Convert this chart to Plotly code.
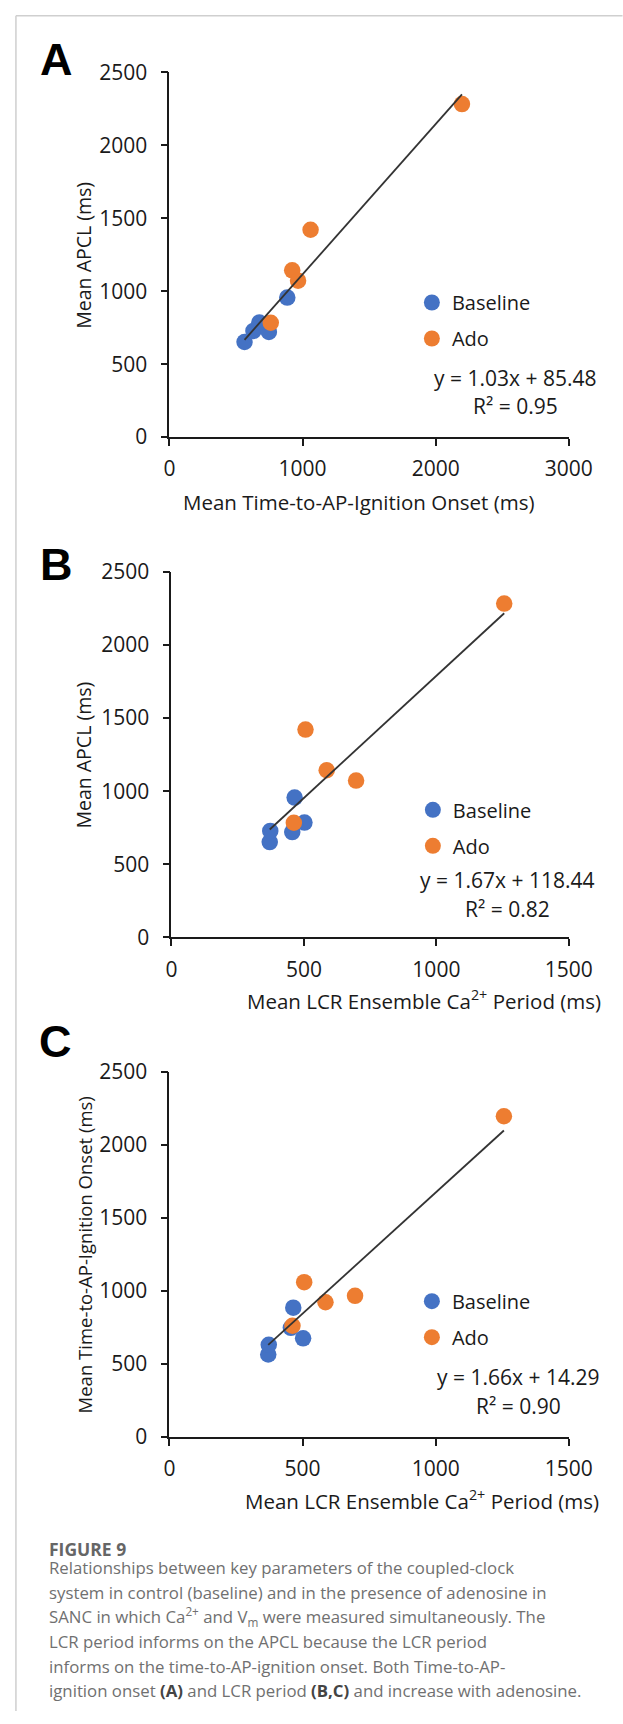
import plotly.graph_objects as go

# ---------------- data ----------------
series_names = ["Baseline", "Ado"]
series_colors = ["#4472C4", "#ED7D31"]

# per cell values (ms)
base_lcr = [371, 373, 456, 465, 502]
base_ign = [564, 631, 747, 885, 675]
base_apcl = [652, 728, 720, 956, 785]

ado_lcr = [462, 506, 586, 697, 1256]
ado_ign = [761, 1060, 922, 966, 2197]
ado_apcl = [784, 1421, 1143, 1072, 2282]

# trendline coefficients printed on the chart
trend_slopes = [1.03, 1.67, 1.66]
trend_intercepts = [85.48, 118.44, 14.29]
trend_r2 = ["0.95", "0.82", "0.90"]

panel_letters = ["A", "B", "C"]
x_titles = ["Mean Time-to-AP-Ignition Onset (ms)",
            "Mean LCR Ensemble Ca<sup>2+</sup> Period (ms)",
            "Mean LCR Ensemble Ca<sup>2+</sup> Period (ms)"]
y_titles = ["Mean APCL (ms)", "Mean APCL (ms)", "Mean Time-to-AP-Ignition Onset (ms)"]
x_ranges = [[0, 3000], [0, 1500], [0, 1500]]
x_dticks = [1000, 500, 500]
y_range = [0, 2500]
y_dtick = 500

caption_title = "FIGURE 9"
caption_lines = [
    "Relationships between key parameters of the coupled-clock",
    "system in control (baseline) and in the presence of adenosine in",
    "SANC in which Ca<sup>2+</sup> and V<sub>m</sub> were measured simultaneously. The",
    "LCR period informs on the APCL because the LCR period",
    "informs on the time-to-AP-ignition onset. Both Time-to-AP-",
    "ignition onset <b style='color:#444'>(A)</b> and LCR period <b style='color:#444'>(B,C)</b> and increase with adenosine.",
]

panel_x = [(base_ign, ado_ign), (base_lcr, ado_lcr), (base_lcr, ado_lcr)]
panel_y = [(base_apcl, ado_apcl), (base_apcl, ado_apcl), (base_ign, ado_ign)]

# ---------------- layout geometry ----------------
# positions below are given in target-picture pixels (623 x 1724) and mapped to
# paper fractions, taking into account how the page is captured
LAYOUT_W, LAYOUT_H = 649, 1724
def px(x):
    return (x - 2.5) / 623.0
def py(y):
    return 1 - (y - 11.5) / 1701.6

plot_left = [167, 169, 167]
plot_right = [569, 569, 569]
plot_top = [69, 570, 1072]
plot_bottom = [435, 937, 1438]
letter_pos = [(53, 56), (53, 563), (52, 1041)]
xtitle_pos = [(358, 500), (423, 1000), (421, 1501)]
ytitle_x = 81
ytitle_sizes = [19.5, 19.5, 18.5]
legend_left = [411, 412, 411]
legend_mid = [318, 827, 1320]
eq_pos = [(515, 376, 404), (507, 879, 908), (518, 1378, 1407)]

FONT = "Open Sans"
INK = "#1a1a1a"

fig = go.Figure()
layout = {}
annotations = []

for i in range(3):
    sfx = "" if i == 0 else str(i + 1)
    xa, ya = "x" + sfx, "y" + sfx
    leg = "legend" + sfx
    all_x = []
    for s in range(2):
        xs = panel_x[i][s]
        ys = panel_y[i][s]
        all_x += xs
        fig.add_trace(go.Scatter(
            x=xs, y=ys, mode="markers", name=series_names[s],
            marker=dict(color=series_colors[s], size=16.5, line=dict(width=0)),
            xaxis=xa, yaxis=ya, legend=leg, legendgroup=f"{leg}_{s}",
            showlegend=True, cliponaxis=False,
        ))
    x0, x1 = min(all_x), max(all_x)
    fig.add_trace(go.Scatter(
        x=[x0, x1],
        y=[trend_slopes[i] * x0 + trend_intercepts[i], trend_slopes[i] * x1 + trend_intercepts[i]],
        mode="lines", line=dict(color="#333333", width=1.8),
        xaxis=xa, yaxis=ya, showlegend=False, hoverinfo="skip",
    ))

    common = dict(showgrid=False, zeroline=False, showline=True, linecolor=INK,
                  linewidth=1.8, ticks="outside", ticklen=7, tickwidth=1.8,
                  tickcolor=INK, tickfont=dict(family=FONT, size=21, color=INK),
                  fixedrange=True)
    layout["xaxis" + sfx] = dict(common, domain=[px(plot_left[i]), px(plot_right[i])],
                                 range=x_ranges[i], dtick=x_dticks[i], tick0=0,
                                 anchor=ya, ticklabelstandoff=5)
    layout["yaxis" + sfx] = dict(common, domain=[py(plot_bottom[i]), py(plot_top[i])],
                                 range=y_range, dtick=y_dtick, tick0=0, anchor=xa,
                                 ticklabelstandoff=9)
    layout[leg] = dict(x=px(legend_left[i]), y=py(legend_mid[i]), xanchor="left",
                       yanchor="middle", font=dict(family=FONT, size=20, color=INK),
                       bgcolor="rgba(0,0,0,0)", traceorder="grouped",
                       tracegroupgap=7, itemclick=False)

    # panel letter
    lx, ly = letter_pos[i]
    annotations.append(dict(text="<b>" + panel_letters[i] + "</b>", x=px(lx), y=py(ly),
                            xref="paper", yref="paper", showarrow=False,
                            font=dict(family="Liberation Sans", size=45, color="#000"),
                            xanchor="center", yanchor="middle"))
    # axis titles
    tx, ty = xtitle_pos[i]
    annotations.append(dict(text=x_titles[i], x=px(tx), y=py(ty), xref="paper", yref="paper",
                            showarrow=False, font=dict(family=FONT, size=20.5, color=INK),
                            xanchor="center", yanchor="middle"))
    annotations.append(dict(text=y_titles[i], x=px(ytitle_x),
                            y=py((plot_top[i] + plot_bottom[i]) / 2),
                            xref="paper", yref="paper", textangle=-90, showarrow=False,
                            font=dict(family=FONT, size=ytitle_sizes[i], color=INK),
                            xanchor="center", yanchor="middle"))
    # equation
    ex, ey1, ey2 = eq_pos[i]
    sign = "+" if trend_intercepts[i] >= 0 else "-"
    eq = f"y = {trend_slopes[i]:.2f}x {sign} {abs(trend_intercepts[i]):.2f}"
    annotations.append(dict(text=eq, x=px(ex), y=py(ey1), xref="paper", yref="paper",
                            showarrow=False, font=dict(family=FONT, size=21, color=INK),
                            xanchor="center", yanchor="middle"))
    annotations.append(dict(text="R² = " + trend_r2[i], x=px(ex), y=py(ey2), xref="paper",
                            yref="paper", showarrow=False,
                            font=dict(family=FONT, size=21, color=INK),
                            xanchor="center", yanchor="middle"))

# caption
annotations.append(dict(text="<b>" + caption_title + "</b>", x=px(44), y=py(1551),
                        xref="paper", yref="paper", showarrow=False,
                        font=dict(family="Open Sans", size=17.5, color="#666666"),
                        xanchor="left", yanchor="middle"))
cap_y = [1569, 1594, 1618, 1643, 1668, 1693]
for line, yy in zip(caption_lines, cap_y):
    annotations.append(dict(text=line, x=px(44), y=py(yy), xref="paper", yref="paper",
                            showarrow=False,
                            font=dict(family="Open Sans", size=16.8, color="#707070"),
                            xanchor="left", yanchor="middle"))

top_border = min(py(5.7), 1 - 0.8 / LAYOUT_H)
shapes = [
    dict(type="line", xref="paper", yref="paper", x0=px(12.5), x1=px(12.5),
         y0=0, y1=top_border, line=dict(color="#cfcfcf", width=1.5)),
    dict(type="line", xref="paper", yref="paper", x0=px(12.5), x1=px(623),
         y0=top_border, y1=top_border, line=dict(color="#cfcfcf", width=1.5)),
]

fig.update_layout(
    width=LAYOUT_W, height=LAYOUT_H, margin=dict(l=0, r=0, t=0, b=0),
    paper_bgcolor="white", plot_bgcolor="white",
    annotations=annotations, shapes=shapes,
    hovermode=False, **layout,
)

post = """
var de = document.documentElement, b = document.body;
de.style.margin = '0'; de.style.padding = '0'; de.style.overflow = 'hidden';
b.style.margin = '0'; b.style.padding = '0'; b.style.overflow = 'hidden';
window.scrollTo(0, 0);
"""

fig.write_html("out.html", config={"displayModeBar": False}, post_script=post)
